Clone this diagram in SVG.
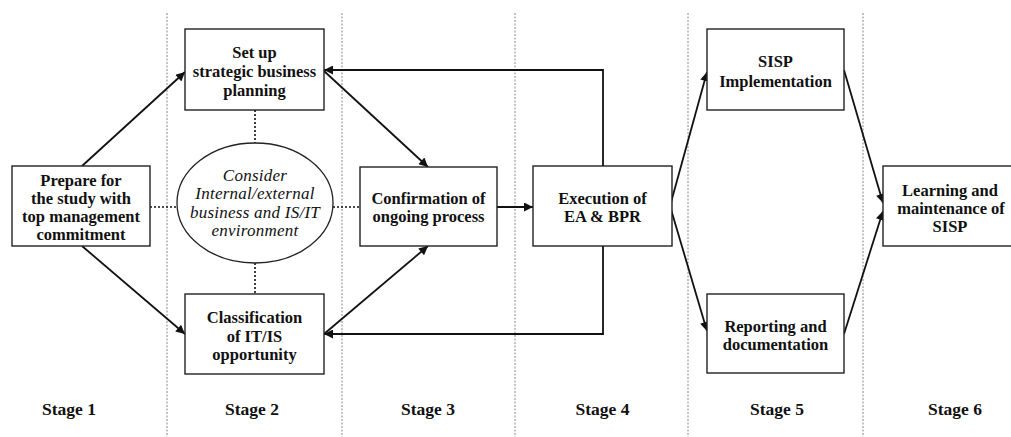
<svg xmlns="http://www.w3.org/2000/svg" width="1011" height="437" viewBox="0 0 1011 437">
<style>
.box{fill:#fff;stroke:#222;stroke-width:1.4}
.t{font-family:"Liberation Serif","Times New Roman",serif;font-weight:bold;font-size:16.5px;text-anchor:middle;fill:#111}
.it{font-family:"Liberation Serif","Times New Roman",serif;font-style:italic;font-size:17px;letter-spacing:0.25px;text-anchor:middle;fill:#111}
.st{font-family:"Liberation Serif","Times New Roman",serif;font-weight:bold;font-size:17.5px;text-anchor:middle;fill:#111}
.div{stroke:#888;stroke-width:1;stroke-dasharray:2,1.5;fill:none}
.ln{stroke:#111;stroke-width:1.8;fill:none}
.dot{stroke:#111;stroke-width:1.6;stroke-dasharray:2,2;fill:none}
</style>
<defs>
<marker id="ah" viewBox="0 0 10 10" refX="10" refY="5" markerWidth="6" markerHeight="5" markerUnits="strokeWidth" orient="auto">
<path d="M0,0 L10,5 L0,10 Z" fill="#111"/>
</marker>
</defs>
<rect width="1011" height="437" fill="#fff"/>
<g id="dividers">
<line class="div" x1="167" y1="13" x2="167" y2="437"/>
<line class="div" x1="342" y1="13" x2="342" y2="437"/>
<line class="div" x1="515" y1="13" x2="515" y2="437"/>
<line class="div" x1="688" y1="13" x2="688" y2="437"/>
<line class="div" x1="863" y1="13" x2="863" y2="437"/>
</g>
<g id="connectors">
<line class="ln" x1="82" y1="166" x2="185" y2="72" marker-end="url(#ah)"/>
<line class="ln" x1="82" y1="246" x2="185" y2="334" marker-end="url(#ah)"/>
<line class="ln" x1="324" y1="71" x2="428" y2="167" marker-end="url(#ah)"/>
<line class="ln" x1="324" y1="334" x2="428" y2="246" marker-end="url(#ah)"/>
<polyline class="ln" points="603,166 603,70 324,70" marker-end="url(#ah)"/>
<polyline class="ln" points="603,246 603,334 324,334" stroke-width="1.4" marker-end="url(#ah)"/>
<line class="ln" x1="497" y1="207" x2="533" y2="207" marker-end="url(#ah)"/>
<line class="ln" x1="670" y1="206" x2="707" y2="72" marker-end="url(#ah)"/>
<line class="ln" x1="670" y1="206" x2="707" y2="331" marker-end="url(#ah)"/>
<line class="ln" x1="844" y1="70" x2="883" y2="203" marker-end="url(#ah)"/>
<line class="ln" x1="844" y1="334" x2="883" y2="211" marker-end="url(#ah)"/>
<line class="dot" x1="150" y1="207" x2="177" y2="207"/>
<line class="dot" x1="333" y1="207" x2="360" y2="207"/>
<line class="dot" x1="255" y1="110" x2="255" y2="143"/>
<line class="dot" x1="255" y1="263" x2="255" y2="294"/>
</g>
<g id="prepare">
<rect class="box" x="12" y="166" width="138" height="80"/>
<text class="t" x="81" y="186">Prepare for</text>
<text class="t" x="81" y="204">the study with</text>
<text class="t" x="81" y="221.5">top management</text>
<text class="t" x="81" y="239.5">commitment</text>
</g>
<g id="setup">
<rect class="box" x="185" y="29" width="139" height="81"/>
<text class="t" x="254.5" y="58">Set up</text>
<text class="t" x="254.5" y="77">strategic business</text>
<text class="t" x="254.5" y="96">planning</text>
</g>
<g id="consider">
<ellipse cx="255" cy="203" rx="78" ry="60" fill="#fff" stroke="#222" stroke-width="1.3"/>
<text class="it" x="255" y="181">Consider</text>
<text class="it" x="255" y="199.3">Internal/external</text>
<text class="it" x="255" y="217.6">business and IS/IT</text>
<text class="it" x="255" y="235.9">environment</text>
</g>
<g id="classification">
<rect class="box" x="185" y="294" width="139" height="80"/>
<text class="t" x="254.5" y="323">Classification</text>
<text class="t" x="254.5" y="341.5">of IT/IS</text>
<text class="t" x="254.5" y="360">opportunity</text>
</g>
<g id="confirmation">
<rect class="box" x="360" y="167" width="137" height="79"/>
<text class="t" x="428.5" y="204">Confirmation of</text>
<text class="t" x="428.5" y="222">ongoing process</text>
</g>
<g id="execution">
<rect class="box" x="533" y="166" width="139" height="80"/>
<text class="t" x="602.5" y="204">Execution of</text>
<text class="t" x="602.5" y="222">EA &amp; BPR</text>
</g>
<g id="sisp">
<rect class="box" x="707" y="29" width="137" height="81"/>
<text class="t" x="775.5" y="67">SISP</text>
<text class="t" x="775.5" y="87">Implementation</text>
</g>
<g id="reporting">
<rect class="box" x="707" y="294" width="137" height="79"/>
<text class="t" x="775.5" y="332">Reporting and</text>
<text class="t" x="775.5" y="349.5">documentation</text>
</g>
<g id="learning">
<rect class="box" x="883" y="166" width="134" height="80"/>
<text class="t" x="950" y="196">Learning and</text>
<text class="t" x="951" y="213.5">maintenance of</text>
<text class="t" x="950" y="232">SISP</text>
</g>
<g id="stages">
<text class="st" x="69" y="415">Stage 1</text>
<text class="st" x="252" y="415">Stage 2</text>
<text class="st" x="428" y="415">Stage 3</text>
<text class="st" x="602.5" y="415">Stage 4</text>
<text class="st" x="777" y="415">Stage 5</text>
<text class="st" x="955" y="415">Stage 6</text>
</g>
</svg>
